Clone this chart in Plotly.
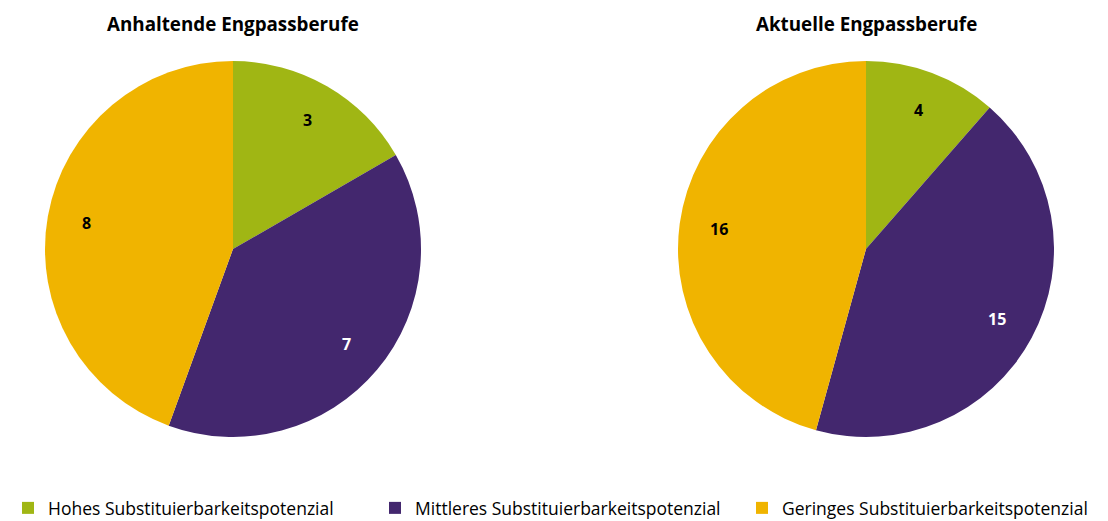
import math
import plotly.graph_objects as go

categories = ["Hohes Substituierbarkeitspotenzial",
              "Mittleres Substituierbarkeitspotenzial",
              "Geringes Substituierbarkeitspotenzial"]
anhaltend_values = [3, 7, 8]
aktuell_values = [4, 15, 16]
titles = ["Anhaltende Engpassberufe", "Aktuelle Engpassberufe"]
colors = ["#a0b614", "#43276e", "#f0b400"]
label_colors = ["#000000", "#ffffff", "#000000"]

# page body has an 8px margin, so the figure is 8px smaller than the window
W, H = 1100, 513
FONT = "Open Sans"

pies = [
    dict(values=anhaltend_values, cx=225, cy=241, r=188, title=titles[0]),
    dict(values=aktuell_values, cx=858, cy=241, r=188, title=titles[1]),
]

fig = go.Figure()
annotations = []
for i, p in enumerate(pies):
    x0 = (p["cx"] - p["r"]) / W
    x1 = (p["cx"] + p["r"]) / W
    y0 = 1 - (p["cy"] + p["r"]) / H
    y1 = 1 - (p["cy"] - p["r"]) / H
    fig.add_trace(go.Pie(
        labels=categories, values=p["values"],
        marker=dict(colors=colors, line=dict(width=0)),
        sort=False, direction="clockwise", rotation=0,
        textinfo="none", hoverinfo="label+value",
        domain=dict(x=[x0, x1], y=[y0, y1]),
        showlegend=(i == 0),
    ))
    total = sum(p["values"])
    cum = 0
    for v, c in zip(p["values"], label_colors):
        mid = (cum + v / 2) / total * 2 * math.pi
        cum += v
        rr = 0.79 * p["r"]
        px = p["cx"] + rr * math.sin(mid)
        py = p["cy"] - rr * math.cos(mid)
        annotations.append(dict(
            x=px / W, y=1 - py / H, xref="paper", yref="paper",
            xanchor="center", yanchor="middle",
            text=f"<b>{v}</b>", showarrow=False,
            font=dict(family=FONT, size=16, color=c),
        ))
    annotations.append(dict(
        x=p["cx"] / W, y=1 - 16 / H, xref="paper", yref="paper",
        xanchor="center", yanchor="middle",
        text=f"<b>{p['title']}</b>", showarrow=False,
        font=dict(family=FONT, size=18.8, color="#000000"),
    ))

fig.update_layout(
    width=W, height=H,
    margin=dict(l=0, r=0, t=0, b=0, autoexpand=False),
    paper_bgcolor="white", plot_bgcolor="white",
    annotations=annotations,
    legend=dict(
        orientation="h", x=0, y=1 - 500 / H, xanchor="left", yanchor="middle",
        entrywidth=322, entrywidthmode="pixels",
        font=dict(family=FONT, size=17.5, color="#000000"),
        traceorder="normal", itemsizing="constant",
        bgcolor="rgba(0,0,0,0)",
    ),
)

fig.write_html("out.html")
